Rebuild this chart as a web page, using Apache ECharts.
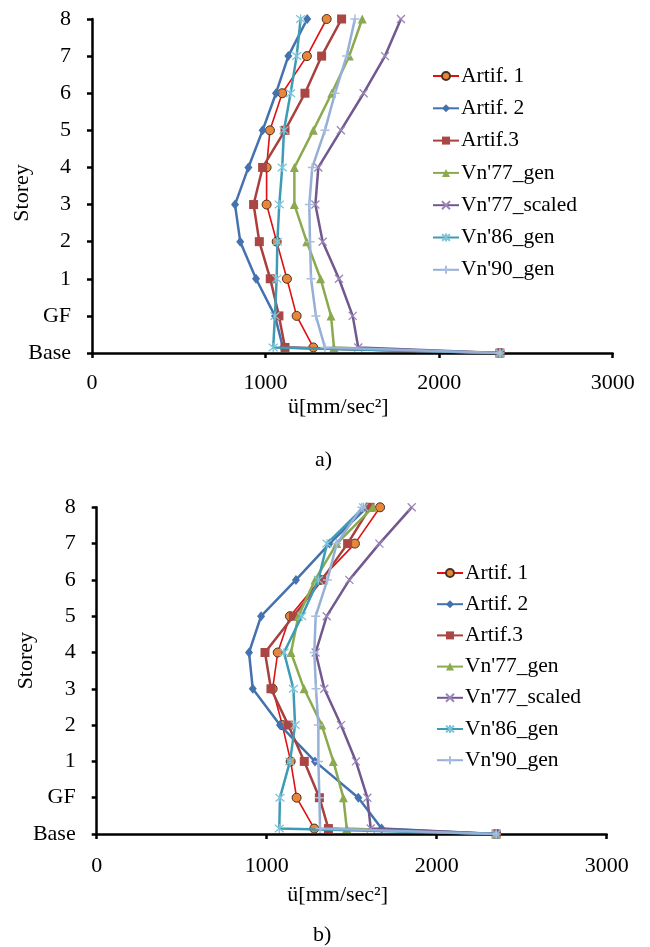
<!DOCTYPE html>
<html><head><meta charset="utf-8">
<script src="https://cdn.jsdelivr.net/npm/echarts@6/dist/echarts.min.js"></script>
<style>html,body{margin:0;padding:0;background:#fff}#c{width:650px;height:947px}</style>
</head><body><div id="c"></div>
<script>
// storey levels (Base, top of base, GF, 1..8)
const levels = [0, 0.15, 1, 2, 3, 4, 5, 6, 7, 8, 9];
const yTickLabels = ['Base', 'GF', '1', '2', '3', '4', '5', '6', '7', '8'];
const seriesNames = ['Artif. 1', 'Artif. 2', 'Artif.3', "Vn'77_gen", "Vn'77_scaled", "Vn'86_gen", "Vn'90_gen"];

// panel a)
const a_artif1 = [2350, 1275, 1179, 1123, 1064, 1006, 1006, 1025, 1096, 1238, 1352];
const a_artif2 = [2350, 1100, 1054, 945, 854, 824, 901, 983, 1060, 1131, 1240];
const a_artif3 = [2350, 1112, 1077, 1027, 964, 931, 983, 1112, 1227, 1323, 1438];
const a_vn77gen = [2350, 1394, 1377, 1317, 1237, 1166, 1166, 1275, 1381, 1482, 1557];
const a_vn77sc = [2350, 1534, 1502, 1423, 1329, 1287, 1304, 1434, 1565, 1688, 1780];
const a_vn86 = [2350, 1044, 1054, 1064, 1068, 1079, 1096, 1106, 1144, 1179, 1202];
const a_vn90 = [2350, 1342, 1290, 1262, 1256, 1252, 1269, 1342, 1400, 1467, 1515];

// panel b)
const b_artif1 = [2350, 1280, 1176, 1141, 1092, 1035, 1065, 1137, 1314, 1519, 1667];
const b_artif2 = [2350, 1676, 1539, 1284, 1078, 918, 896, 967, 1172, 1370, 1590];
const b_artif3 = [2350, 1363, 1310, 1221, 1127, 1025, 990, 1157, 1324, 1476, 1608];
const b_vn77gen = [2350, 1471, 1451, 1392, 1324, 1220, 1143, 1186, 1284, 1412, 1624];
const b_vn77sc = [2350, 1612, 1592, 1525, 1437, 1339, 1288, 1353, 1486, 1663, 1853];
const b_vn86 = [2350, 1074, 1078, 1137, 1167, 1157, 1102, 1206, 1304, 1355, 1570];
const b_vn90 = [2350, 1314, 1310, 1304, 1304, 1290, 1280, 1288, 1357, 1412, 1560];

const FONT = 'Liberation Serif';
const styles = [
  {line: '#E01010', w: 1.6, symbol: 'circle', size: 9, item: {color: '#E8873A', borderColor: '#4a3020', borderWidth: 1}},
  {line: '#4472AE', w: 2.5, symbol: 'diamond', size: [8, 10], item: {color: '#4472AE'}},
  {line: '#A8403E', w: 2.5, symbol: 'rect', size: 9, item: {color: '#AA4643'}},
  {line: '#8BAA4F', w: 2.5, symbol: 'triangle', size: 9, item: {color: '#8BAA4F'}},
  {line: '#71588F', w: 2.5, symbol: 'path://M0,0L10,10M10,0L0,10', size: 8, item: {color: 'none', borderColor: '#9A86B8', borderWidth: 1.3}},
  {line: '#3E9BB5', w: 2.5, symbol: 'path://M0,0L10,10M10,0L0,10M5,-1L5,11', size: 9, item: {color: 'none', borderColor: '#7CC4DA', borderWidth: 1.3}},
  {line: '#95AFD6', w: 2.5, symbol: 'path://M5,0L5,10M0,5L10,5', size: 9, item: {color: 'none', borderColor: '#A9BDE0', borderWidth: 1.5}}
];
const panelA = [a_artif1, a_artif2, a_artif3, a_vn77gen, a_vn77sc, a_vn86, a_vn90];
const panelB = [b_artif1, b_artif2, b_artif3, b_vn77gen, b_vn77sc, b_vn86, b_vn90];

function mkSeries(vals, idx) {
  return vals.map((arr, i) => ({
    type: 'line', name: seriesNames[i], xAxisIndex: idx, yAxisIndex: idx,
    data: arr.map((v, k) => [v, levels[k]]),
    symbol: styles[i].symbol, symbolSize: styles[i].size,
    lineStyle: {color: styles[i].line, width: styles[i].w},
    itemStyle: styles[i].item, color: styles[i].line,
    animation: false, z: 2 + i
  }));
}
function xAx(idx, margin, gap) {
  return {type: 'value', gridIndex: idx, min: 0, max: 3000, interval: 1000,
    name: 'ü[mm/sec²]', nameLocation: 'middle', nameGap: gap,
    nameTextStyle: {fontFamily: FONT, fontSize: 22, color: '#000', padding: [0, 28, 0, 0]},
    axisLine: {lineStyle: {color: '#000', width: 2.5}},
    axisTick: {show: true, length: 5, lineStyle: {color: '#000', width: 2.5}},
    axisLabel: {margin: margin, fontFamily: FONT, fontSize: 22, color: '#000', formatter: v => String(v)},
    splitLine: {show: false}};
}
function yAx(idx, pad) {
  return {type: 'value', gridIndex: idx, min: 0, max: 9, interval: 1,
    name: 'Storey', nameLocation: 'middle', nameGap: 59, nameMoveOverlap: false,
    nameTextStyle: {fontFamily: FONT, fontSize: 22, color: '#000', padding: pad},
    axisLine: {lineStyle: {color: '#000', width: 2.5}},
    axisTick: {show: true, length: 5, lineStyle: {color: '#000', width: 2.5}},
    axisLabel: {margin: 21, fontFamily: FONT, fontSize: 22, color: '#000',
      formatter: v => yTickLabels[Math.round(v)]},
    splitLine: {show: false}};
}
function leg(left, top, gap) {
  return {orient: 'vertical', left: left, top: top, itemWidth: 26, itemHeight: 10, itemGap: gap,
    data: seriesNames, textStyle: {fontFamily: FONT, fontSize: 21.5, color: '#000', lineHeight: 22, padding: [0,0,0,-3]}};
}
const chart = echarts.init(document.getElementById('c'));
chart.setOption({
  backgroundColor: '#fff',
  grid: [
    {left: 92, top: 19, width: 520.7, height: 334, containLabel: false, outerBoundsMode: 'none'},
    {left: 96.7, top: 507.3, width: 510, height: 326.7, containLabel: false, outerBoundsMode: 'none'}
  ],
  xAxis: [xAx(0, 19, 43), xAx(1, 21, 50)],
  yAxis: [yAx(0, [0, 14, 0, 0]), yAx(1, [0, 0, 0, 20])],
  legend: [leg(427, 60, 10.3), leg(431, 557, 9.2)],
  graphic: [
    {type: 'text', left: 315, top: 449, style: {text: 'a)', font: '22px "Liberation Serif"', fill: '#000'}},
    {type: 'text', left: 313, top: 924, style: {text: 'b)', font: '22px "Liberation Serif"', fill: '#000'}}
  ],
  series: [...mkSeries(panelA, 0), ...mkSeries(panelB, 1)]
});
</script></body></html>
